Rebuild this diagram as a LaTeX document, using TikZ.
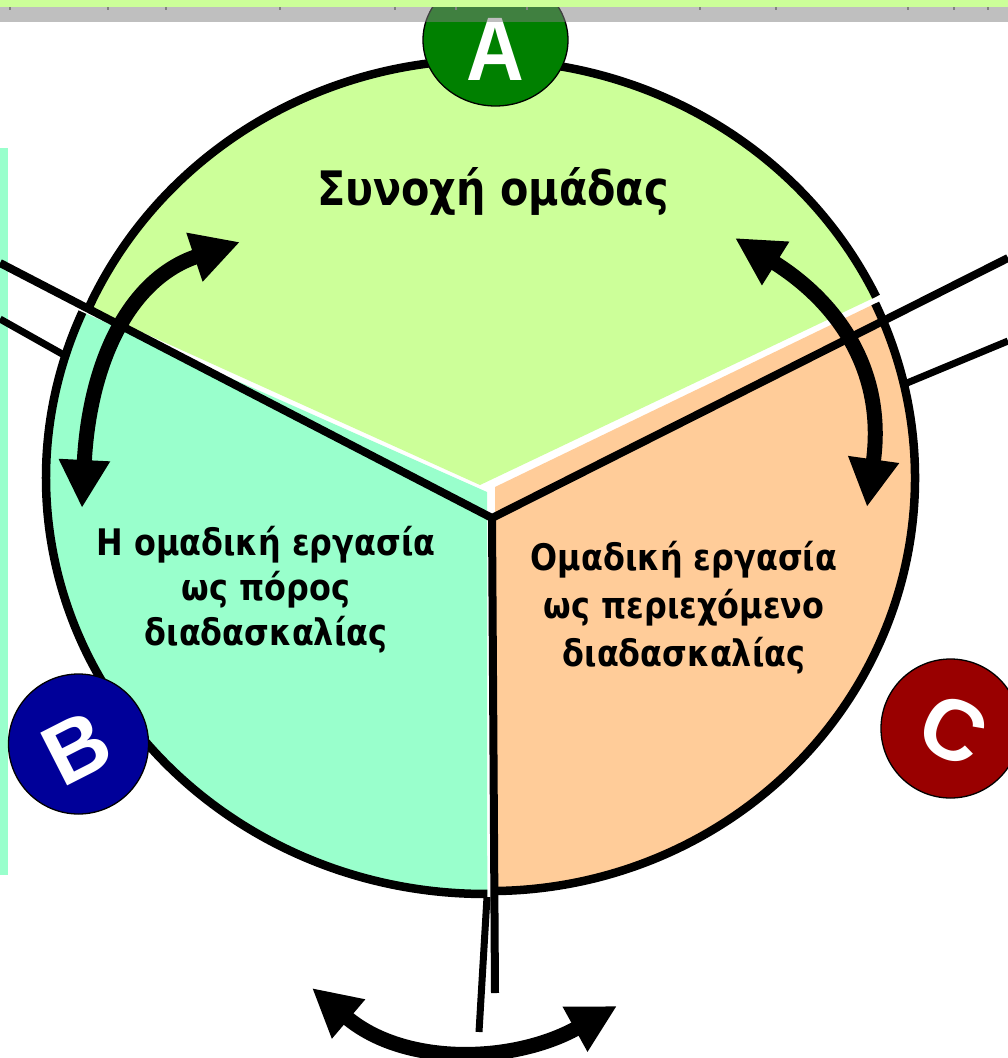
\documentclass[tikz,border=0pt]{standalone}
\usepackage{fontspec}
\setmainfont{DejaVu Sans}
\newfontfamily\grfont[FakeStretch=0.87]{DejaVu Sans}
\newfontfamily\letfont{Liberation Sans}
\usetikzlibrary{arrows.meta}
\definecolor{secgreen}{HTML}{CCFF99}
\definecolor{seccyan}{HTML}{99FFCC}
\definecolor{secorange}{HTML}{FFCC99}
\definecolor{agreen}{HTML}{008000}
\definecolor{bblue}{HTML}{000099}
\definecolor{cred}{HTML}{990000}
\definecolor{bandgray}{HTML}{808080}
\begin{document}
\begin{tikzpicture}[x=1pt,y=1pt,
  outline/.style={line width=8.5pt,black},
  sepline/.style={line width=8pt,black},
  parline/.style={line width=7pt,black},
  dblarrow/.style={line width=15pt,{Triangle[length=48pt,width=48pt]}-{Triangle[length=48pt,width=48pt]}},
  badge/.style={draw=black,line width=1.3pt},
  letter/.style={text=white,inner sep=0pt,font=\letfont\bfseries\fontsize{86}{86}\selectfont},
  lbl/.style={inner sep=0pt,anchor=base,text=black,font=\grfont\bfseries\fontsize{36.6}{40}\selectfont},
  ttl/.style={inner sep=0pt,anchor=base,text=black,font=\grfont\bfseries\fontsize{47.5}{50}\selectfont},
  tick/.style={fill=black!50}
]
\useasboundingbox (0,0) rectangle (1008,-1058);
\fill[white] (0,0) rectangle (1008,-1058);
% left strip
\fill[seccyan] (0,-148) rectangle (8,-875);
% sectors
\fill[secgreen] (480,-485) -- (876.1,-296.7) arc[start angle=25.7,end angle=156,x radius=434,y radius=418] -- cycle;
\fill[seccyan] (487,-492) -- (82.4,-312.1) arc[start angle=156.5,end angle=270.3,x radius=439,y radius=416] -- cycle;
\fill[secorange] (495,-487) -- (875.2,-303.5) arc[start angle=25,end angle=-89,x radius=425,y radius=413] -- cycle;
% outlines
\draw[outline] (876.1,-296.7) arc[start angle=25.7,end angle=156,x radius=434,y radius=418];
\draw[outline] (82.4,-312.1) arc[start angle=156.5,end angle=270.3,x radius=439,y radius=416];
\draw[outline] (875.2,-303.5) arc[start angle=25,end angle=-89,x radius=425,y radius=413];
% separator lines
\coordinate (ctr) at (492,-518);
\coordinate (ulend) at (0,-263);
\coordinate (urend) at (1008,-258);
\coordinate (dnend) at (495,-993);
\draw[sepline] (ulend) -- (ctr) -- (urend);
\draw[sepline] (ctr) -- (dnend);
\coordinate (pl1) at (0,-319);
\coordinate (pl2) at (64,-355);
\coordinate (pr1) at (907,-383);
\coordinate (pr2) at (1008,-341);
\coordinate (pb1) at (487,-897);
\coordinate (pb2) at (479,-1032);
\draw[parline] (pl1) -- (pl2);
\draw[parline] (pr1) -- (pr2);
\draw[parline] (pb1) -- (pb2);
% double arrows
\coordinate (la1) at (240,-242);
\coordinate (la2) at (82,-508);
\coordinate (ra1) at (735,-238);
\coordinate (ra2) at (867,-507);
\coordinate (ba1) at (312,-988);
\coordinate (ba2) at (617,-1006);
\draw[dblarrow] (la1) .. controls (126,-280) and (89,-368) .. (la2);
\draw[dblarrow] (ra1) .. controls (845,-307) and (885,-378) .. (ra2);
\draw[dblarrow] (ba1) .. controls (404,-1066) and (512,-1064) .. (ba2);
% texts
\node[ttl] (title) at (493,-205) {Συνοχή ομάδας};
\node[lbl] (l1) at (266,-555) {Η ομαδική εργασία};
\node[lbl] (l2) at (266,-600) {ως πόρος};
\node[lbl] (l3) at (266,-645) {διαδασκαλίας};
\node[lbl] (r1) at (684,-570) {Ομαδική εργασία};
\node[lbl] (r2) at (684,-618) {ως περιεχόμενο};
\node[lbl] (r3) at (684,-666) {διαδασκαλίας};
% badges
\fill[bblue,badge] (78.5,-744) circle[radius=70];
\node[letter,rotate=27] (lb) at (77,-748) {B};
\fill[cred,badge] (950.5,-728.5) circle[radius=69.5];
\node[letter,rotate=-25] (lc) at (953,-730) {C};
\fill[agreen,badge] (495.5,-40) ellipse[x radius=72.5,y radius=66];
\node[letter,anchor=base,yscale=1.05,xscale=0.93] (la) at (495.5,-80) {A};
% top band
\fill[bandgray,opacity=0.5] (0,-7) rectangle (1008,-22);
\foreach \tx in {10,108,166,280,395,456,527,700,776,908,954,988}
  \fill[tick] (\tx-1,-7) rectangle (\tx+1,-10);
\fill[secgreen] (0,0) rectangle (1008,-7);
\end{tikzpicture}
\end{document}
